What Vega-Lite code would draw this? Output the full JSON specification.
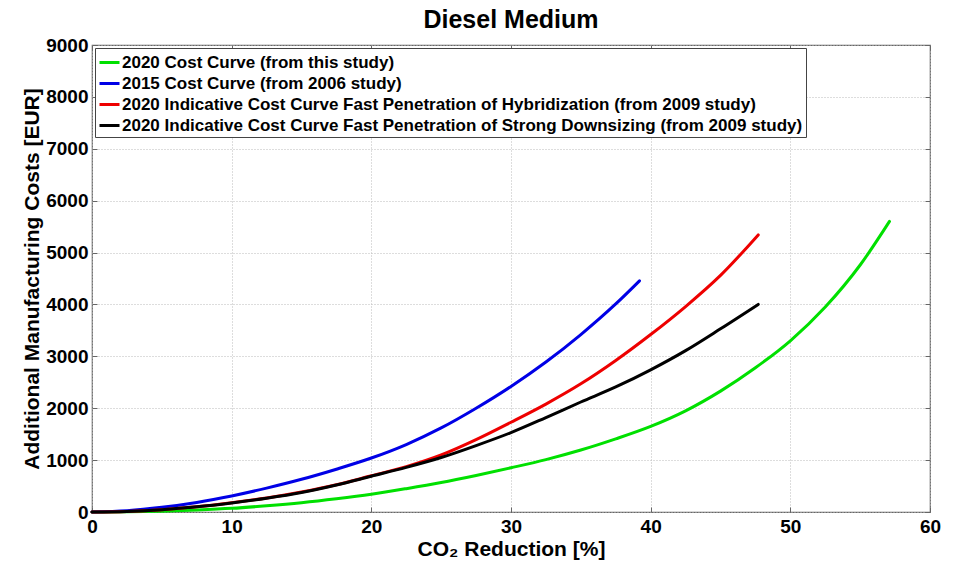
{
  "$schema": "https://vega.github.io/schema/vega-lite/v6.json",
  "width": 838,
  "height": 467,
  "autosize": "none",
  "padding": {"left": 92, "top": 45, "right": 24, "bottom": 52},
  "background": "white",
  "title": {
    "text": "Diesel Medium",
    "font": "Liberation Sans",
    "fontSize": 25,
    "fontWeight": "bold",
    "color": "black",
    "offset": 3,
    "anchor": "middle"
  },
  "config": {
    "view": {"stroke": "#666666", "strokeWidth": 1.2},
    "font": "Liberation Sans"
  },
  "data": {
    "values": [
      {"series": "2020 Cost Curve (from this study)", "x": 0, "y": 0},
      {"series": "2020 Cost Curve (from this study)", "x": 2.5, "y": 3},
      {"series": "2020 Cost Curve (from this study)", "x": 5, "y": 15},
      {"series": "2020 Cost Curve (from this study)", "x": 7.5, "y": 38},
      {"series": "2020 Cost Curve (from this study)", "x": 10, "y": 70},
      {"series": "2020 Cost Curve (from this study)", "x": 12.5, "y": 120},
      {"series": "2020 Cost Curve (from this study)", "x": 15, "y": 180},
      {"series": "2020 Cost Curve (from this study)", "x": 17.5, "y": 255},
      {"series": "2020 Cost Curve (from this study)", "x": 20, "y": 342},
      {"series": "2020 Cost Curve (from this study)", "x": 22.5, "y": 450},
      {"series": "2020 Cost Curve (from this study)", "x": 25, "y": 568},
      {"series": "2020 Cost Curve (from this study)", "x": 27.5, "y": 705},
      {"series": "2020 Cost Curve (from this study)", "x": 30, "y": 853},
      {"series": "2020 Cost Curve (from this study)", "x": 32.5, "y": 1010},
      {"series": "2020 Cost Curve (from this study)", "x": 35, "y": 1195},
      {"series": "2020 Cost Curve (from this study)", "x": 37.5, "y": 1410},
      {"series": "2020 Cost Curve (from this study)", "x": 40, "y": 1650},
      {"series": "2020 Cost Curve (from this study)", "x": 42.5, "y": 1950},
      {"series": "2020 Cost Curve (from this study)", "x": 45, "y": 2330},
      {"series": "2020 Cost Curve (from this study)", "x": 47.5, "y": 2780},
      {"series": "2020 Cost Curve (from this study)", "x": 50, "y": 3300},
      {"series": "2020 Cost Curve (from this study)", "x": 52.5, "y": 3950},
      {"series": "2020 Cost Curve (from this study)", "x": 55, "y": 4760},
      {"series": "2020 Cost Curve (from this study)", "x": 57.1, "y": 5600},
      {"series": "2015 Cost Curve (from 2006 study)", "x": 0, "y": 0},
      {"series": "2015 Cost Curve (from 2006 study)", "x": 2.5, "y": 25},
      {"series": "2015 Cost Curve (from 2006 study)", "x": 5, "y": 90},
      {"series": "2015 Cost Curve (from 2006 study)", "x": 7.5, "y": 185},
      {"series": "2015 Cost Curve (from 2006 study)", "x": 10, "y": 310},
      {"series": "2015 Cost Curve (from 2006 study)", "x": 12.5, "y": 460},
      {"series": "2015 Cost Curve (from 2006 study)", "x": 15, "y": 630},
      {"series": "2015 Cost Curve (from 2006 study)", "x": 17.5, "y": 825},
      {"series": "2015 Cost Curve (from 2006 study)", "x": 20, "y": 1040},
      {"series": "2015 Cost Curve (from 2006 study)", "x": 22.5, "y": 1300},
      {"series": "2015 Cost Curve (from 2006 study)", "x": 25, "y": 1620},
      {"series": "2015 Cost Curve (from 2006 study)", "x": 27.5, "y": 2000},
      {"series": "2015 Cost Curve (from 2006 study)", "x": 30, "y": 2420},
      {"series": "2015 Cost Curve (from 2006 study)", "x": 32.5, "y": 2890},
      {"series": "2015 Cost Curve (from 2006 study)", "x": 35, "y": 3420},
      {"series": "2015 Cost Curve (from 2006 study)", "x": 37.5, "y": 4010},
      {"series": "2015 Cost Curve (from 2006 study)", "x": 39.2, "y": 4455},
      {"series": "2020 Indicative Cost Curve Fast Penetration of Hybridization (from 2009 study)", "x": 0, "y": 0},
      {"series": "2020 Indicative Cost Curve Fast Penetration of Hybridization (from 2009 study)", "x": 2.5, "y": 12},
      {"series": "2020 Indicative Cost Curve Fast Penetration of Hybridization (from 2009 study)", "x": 5, "y": 45},
      {"series": "2020 Indicative Cost Curve Fast Penetration of Hybridization (from 2009 study)", "x": 7.5, "y": 100},
      {"series": "2020 Indicative Cost Curve Fast Penetration of Hybridization (from 2009 study)", "x": 10, "y": 178},
      {"series": "2020 Indicative Cost Curve Fast Penetration of Hybridization (from 2009 study)", "x": 12.5, "y": 270},
      {"series": "2020 Indicative Cost Curve Fast Penetration of Hybridization (from 2009 study)", "x": 15, "y": 385},
      {"series": "2020 Indicative Cost Curve Fast Penetration of Hybridization (from 2009 study)", "x": 17.5, "y": 525},
      {"series": "2020 Indicative Cost Curve Fast Penetration of Hybridization (from 2009 study)", "x": 20, "y": 698},
      {"series": "2020 Indicative Cost Curve Fast Penetration of Hybridization (from 2009 study)", "x": 22.5, "y": 875},
      {"series": "2020 Indicative Cost Curve Fast Penetration of Hybridization (from 2009 study)", "x": 25, "y": 1100},
      {"series": "2020 Indicative Cost Curve Fast Penetration of Hybridization (from 2009 study)", "x": 27.5, "y": 1395},
      {"series": "2020 Indicative Cost Curve Fast Penetration of Hybridization (from 2009 study)", "x": 30, "y": 1730},
      {"series": "2020 Indicative Cost Curve Fast Penetration of Hybridization (from 2009 study)", "x": 32.5, "y": 2080},
      {"series": "2020 Indicative Cost Curve Fast Penetration of Hybridization (from 2009 study)", "x": 35, "y": 2470},
      {"series": "2020 Indicative Cost Curve Fast Penetration of Hybridization (from 2009 study)", "x": 37.5, "y": 2920},
      {"series": "2020 Indicative Cost Curve Fast Penetration of Hybridization (from 2009 study)", "x": 40, "y": 3420},
      {"series": "2020 Indicative Cost Curve Fast Penetration of Hybridization (from 2009 study)", "x": 42.5, "y": 3960},
      {"series": "2020 Indicative Cost Curve Fast Penetration of Hybridization (from 2009 study)", "x": 45, "y": 4560},
      {"series": "2020 Indicative Cost Curve Fast Penetration of Hybridization (from 2009 study)", "x": 47.7, "y": 5340},
      {"series": "2020 Indicative Cost Curve Fast Penetration of Strong Downsizing (from 2009 study)", "x": 0, "y": 0},
      {"series": "2020 Indicative Cost Curve Fast Penetration of Strong Downsizing (from 2009 study)", "x": 2.5, "y": 12},
      {"series": "2020 Indicative Cost Curve Fast Penetration of Strong Downsizing (from 2009 study)", "x": 5, "y": 45},
      {"series": "2020 Indicative Cost Curve Fast Penetration of Strong Downsizing (from 2009 study)", "x": 7.5, "y": 100},
      {"series": "2020 Indicative Cost Curve Fast Penetration of Strong Downsizing (from 2009 study)", "x": 10, "y": 175},
      {"series": "2020 Indicative Cost Curve Fast Penetration of Strong Downsizing (from 2009 study)", "x": 12.5, "y": 265},
      {"series": "2020 Indicative Cost Curve Fast Penetration of Strong Downsizing (from 2009 study)", "x": 15, "y": 375},
      {"series": "2020 Indicative Cost Curve Fast Penetration of Strong Downsizing (from 2009 study)", "x": 17.5, "y": 520},
      {"series": "2020 Indicative Cost Curve Fast Penetration of Strong Downsizing (from 2009 study)", "x": 20, "y": 690},
      {"series": "2020 Indicative Cost Curve Fast Penetration of Strong Downsizing (from 2009 study)", "x": 22.5, "y": 860},
      {"series": "2020 Indicative Cost Curve Fast Penetration of Strong Downsizing (from 2009 study)", "x": 25, "y": 1050},
      {"series": "2020 Indicative Cost Curve Fast Penetration of Strong Downsizing (from 2009 study)", "x": 27.5, "y": 1280},
      {"series": "2020 Indicative Cost Curve Fast Penetration of Strong Downsizing (from 2009 study)", "x": 30, "y": 1530},
      {"series": "2020 Indicative Cost Curve Fast Penetration of Strong Downsizing (from 2009 study)", "x": 32.5, "y": 1820},
      {"series": "2020 Indicative Cost Curve Fast Penetration of Strong Downsizing (from 2009 study)", "x": 35, "y": 2120},
      {"series": "2020 Indicative Cost Curve Fast Penetration of Strong Downsizing (from 2009 study)", "x": 37.5, "y": 2410},
      {"series": "2020 Indicative Cost Curve Fast Penetration of Strong Downsizing (from 2009 study)", "x": 40, "y": 2740},
      {"series": "2020 Indicative Cost Curve Fast Penetration of Strong Downsizing (from 2009 study)", "x": 42.5, "y": 3110},
      {"series": "2020 Indicative Cost Curve Fast Penetration of Strong Downsizing (from 2009 study)", "x": 45, "y": 3530},
      {"series": "2020 Indicative Cost Curve Fast Penetration of Strong Downsizing (from 2009 study)", "x": 47.7, "y": 4000}
    ]
  },
  "layer": [
    {
      "mark": {"type": "line", "opacity": 0},
      "encoding": {
        "x": {
          "field": "x",
          "type": "quantitative",
          "scale": {"domain": [0, 60], "nice": false},
          "axis": {
            "orient": "top",
            "title": null,
            "labels": false,
            "domain": false,
            "grid": false,
            "values": [0, 10, 20, 30, 40, 50, 60],
            "tickColor": "#666666",
            "tickSize": -5
          }
        },
        "y": {
          "field": "y",
          "type": "quantitative",
          "scale": {"domain": [0, 9000], "nice": false},
          "axis": {
            "orient": "right",
            "title": null,
            "labels": false,
            "domain": false,
            "grid": false,
            "values": [0, 1000, 2000, 3000, 4000, 5000, 6000, 7000, 8000, 9000],
            "tickColor": "#666666",
            "tickSize": -5
          }
        },
        "detail": {"field": "series", "type": "nominal"}
      }
    },
    {
      "mark": {"type": "line", "interpolate": "monotone", "strokeWidth": 3, "strokeCap": "round"},
      "encoding": {
        "x": {
          "field": "x",
          "type": "quantitative",
          "scale": {"domain": [0, 60], "nice": false},
          "axis": {
            "orient": "bottom",
            "title": "CO₂ Reduction [%]",
            "titleFont": "Liberation Sans",
            "titleFontSize": 21,
            "titleFontWeight": "bold",
            "titleColor": "black",
            "titlePadding": 2,
            "values": [0, 10, 20, 30, 40, 50, 60],
            "format": "d",
            "labelFont": "Liberation Sans",
            "labelFontSize": 19,
            "labelFontWeight": "bold",
            "labelColor": "black",
            "labelPadding": 10,
            "labelFlush": false,
            "domain": false,
            "tickColor": "#666666",
            "tickSize": -5,
            "grid": true,
            "gridColor": "#bbbbbb",
            "gridDash": [1, 2],
            "gridWidth": 1
          }
        },
        "y": {
          "field": "y",
          "type": "quantitative",
          "scale": {"domain": [0, 9000], "nice": false},
          "axis": {
            "orient": "left",
            "title": "Additional Manufacturing Costs [EUR]",
            "titleFont": "Liberation Sans",
            "titleFontSize": 21,
            "titleFontWeight": "bold",
            "titleColor": "black",
            "titlePadding": 3,
            "values": [0, 1000, 2000, 3000, 4000, 5000, 6000, 7000, 8000, 9000],
            "format": "d",
            "labelFont": "Liberation Sans",
            "labelFontSize": 19,
            "labelFontWeight": "bold",
            "labelColor": "black",
            "labelPadding": 9,
            "labelFlush": false,
            "domain": false,
            "tickColor": "#666666",
            "tickSize": -5,
            "grid": true,
            "gridColor": "#bbbbbb",
            "gridDash": [1, 2],
            "gridWidth": 1
          }
        },
        "color": {
          "field": "series",
          "type": "nominal",
          "scale": {
            "domain": [
              "2020 Cost Curve (from this study)",
              "2015 Cost Curve (from 2006 study)",
              "2020 Indicative Cost Curve Fast Penetration of Hybridization (from 2009 study)",
              "2020 Indicative Cost Curve Fast Penetration of Strong Downsizing (from 2009 study)"
            ],
            "range": ["#00e000", "#0000e6", "#ee0000", "#000000"]
          },
          "legend": {
            "title": null,
            "orient": "top-left",
            "offset": 3,
            "labelFont": "Liberation Sans",
            "labelFontSize": 17,
            "labelFontWeight": "bold",
            "labelColor": "black",
            "labelLimit": 900,
            "symbolType": "stroke",
            "symbolSize": 400,
            "symbolStrokeWidth": 3,
            "symbolOffset": 0,
            "labelOffset": 1,
            "rowPadding": 1,
            "padding": 3,
            "fillColor": "white",
            "strokeColor": "#444444"
          }
        }
      }
    }
  ],
  "resolve": {"axis": {"x": "independent", "y": "independent"}}
}
